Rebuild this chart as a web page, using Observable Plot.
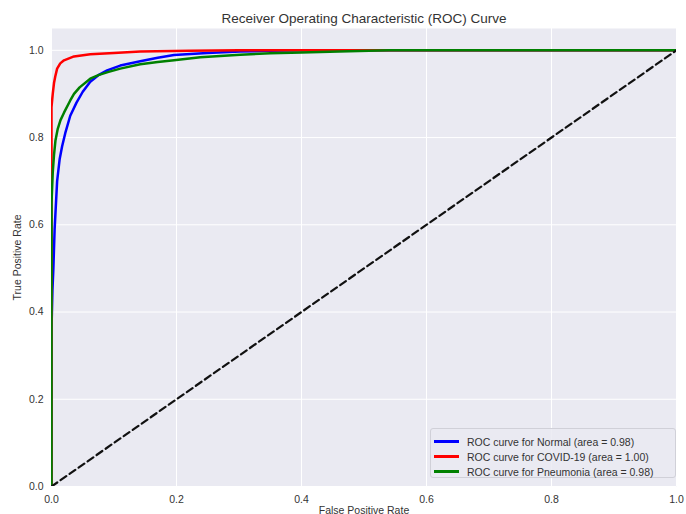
<!DOCTYPE html>
<html><head><meta charset="utf-8">
<script src="https://cdn.jsdelivr.net/npm/d3@7"></script>
<script src="https://cdn.jsdelivr.net/npm/@observablehq/plot@0.6"></script>
<style>
body{margin:0;background:#fff;font-family:"Liberation Sans",Arial,sans-serif;}
#wrap{position:relative;width:686px;height:514px;}
#legend{position:absolute;left:430px;top:428px;width:246px;height:50px;box-sizing:border-box;background:rgba(234,234,242,0.85);border:1px solid #d0d0d8;border-radius:3px;font-size:10.5px;color:#333;padding:5px 0 0 3px;}
.row{display:flex;align-items:center;height:15px;}
.sw{width:25px;height:2.5px;margin-right:8px;}
</style></head><body>
<div id="wrap"></div>
<script>
const ticks = [0, 0.2, 0.4, 0.6, 0.8, 1.0];
const seriesNames = ["ROC curve for Normal (area = 0.98)", "ROC curve for COVID-19 (area = 1.00)", "ROC curve for Pneumonia (area = 0.98)"];
const seriesColors = ["blue", "red", "green"];

const normalFpr = [0, 0, 0, 0.0015, 0.003, 0.005, 0.009, 0.013, 0.017, 0.022, 0.030, 0.040, 0.050, 0.062, 0.075, 0.089, 0.11, 0.142, 0.17, 0.196, 0.249, 0.302, 0.35, 0.40, 1.0];
const normalTpr = [0, 0.23, 0.36, 0.45, 0.5, 0.59, 0.70, 0.75, 0.78, 0.81, 0.85, 0.88, 0.905, 0.928, 0.943, 0.954, 0.965, 0.975, 0.983, 0.989, 0.994, 0.997, 0.999, 1.0, 1.0];

const covidFpr = [0, 0, 0.002, 0.004, 0.006, 0.009, 0.014, 0.02, 0.036, 0.062, 0.10, 0.142, 0.22, 0.30, 1.0];
const covidTpr = [0, 0.87, 0.90, 0.925, 0.94, 0.958, 0.97, 0.977, 0.986, 0.991, 0.994, 0.997, 0.999, 1.0, 1.0];

const pneuFpr = [0, 0, 0.002, 0.004, 0.0064, 0.01, 0.0144, 0.02, 0.03, 0.036, 0.045, 0.062, 0.075, 0.09, 0.11, 0.142, 0.17, 0.196, 0.238, 0.302, 0.35, 0.40, 0.46, 0.54, 1.0];
const pneuTpr = [0, 0.65, 0.72, 0.76, 0.794, 0.82, 0.84, 0.857, 0.885, 0.90, 0.915, 0.935, 0.943, 0.95, 0.958, 0.968, 0.973, 0.977, 0.984, 0.99, 0.993, 0.995, 0.997, 1.0, 1.0];

const toRows = (fpr, tpr) => fpr.map((x, i) => ({x, y: tpr[i]}));
const normal = toRows(normalFpr, normalTpr);
const covid = toRows(covidFpr, covidTpr);
const pneu = toRows(pneuFpr, pneuTpr);
const diag = [{x: 0, y: 0}, {x: 1, y: 1}];

const chart = Plot.plot({
  width: 686, height: 514,
  marginLeft: 51, marginRight: 10, marginTop: 28, marginBottom: 28,
  style: {fontFamily: "Liberation Sans, Arial, sans-serif", fontSize: "10.5px", color: "#333", background: "#fff"},
  x: {domain: [0, 1]},
  y: {domain: [0, 1.05]},
  marks: [
    Plot.frame({fill: "#EAEAF2", stroke: null}),
    Plot.gridX(ticks, {stroke: "#fff", strokeOpacity: 1, strokeWidth: 1}),
    Plot.gridY(ticks, {stroke: "#fff", strokeOpacity: 1, strokeWidth: 1}),
    Plot.axisX(ticks, {tickSize: 0, tickPadding: 9, tickFormat: d3.format(".1f"), label: "False Positive Rate", labelArrow: "none", labelAnchor: "center", labelOffset: 27, fontSize: 10.5}),
    Plot.axisY(ticks, {tickSize: 0, tickPadding: 8, tickFormat: d3.format(".1f"), label: "True Positive Rate", labelArrow: "none", labelAnchor: "center", labelOffset: 38, fontSize: 10.5}),
    Plot.line(normal, {x: "x", y: "y", stroke: seriesColors[0], strokeWidth: 2.5, clip: true}),
    Plot.line(covid, {x: "x", y: "y", stroke: seriesColors[1], strokeWidth: 2.5, clip: true}),
    Plot.line(pneu, {x: "x", y: "y", stroke: seriesColors[2], strokeWidth: 2.5, clip: true}),
    Plot.line(diag, {x: "x", y: "y", stroke: "#111", strokeWidth: 2.2, strokeDasharray: "7,4", clip: true}),
    Plot.text(["Receiver Operating Characteristic (ROC) Curve"], {frameAnchor: "top", dy: -15, fontSize: 13.5, fill: "#333"})
  ]
});
const wrap = document.getElementById("wrap");
wrap.appendChild(chart);
const leg = document.createElement("div");
leg.id = "legend";
seriesNames.forEach((n, i) => {
  const r = document.createElement("div"); r.className = "row";
  const s = document.createElement("div"); s.className = "sw"; s.style.background = seriesColors[i];
  const t = document.createElement("span"); t.textContent = n;
  r.appendChild(s); r.appendChild(t); leg.appendChild(r);
});
wrap.appendChild(leg);
</script>
</body></html>
